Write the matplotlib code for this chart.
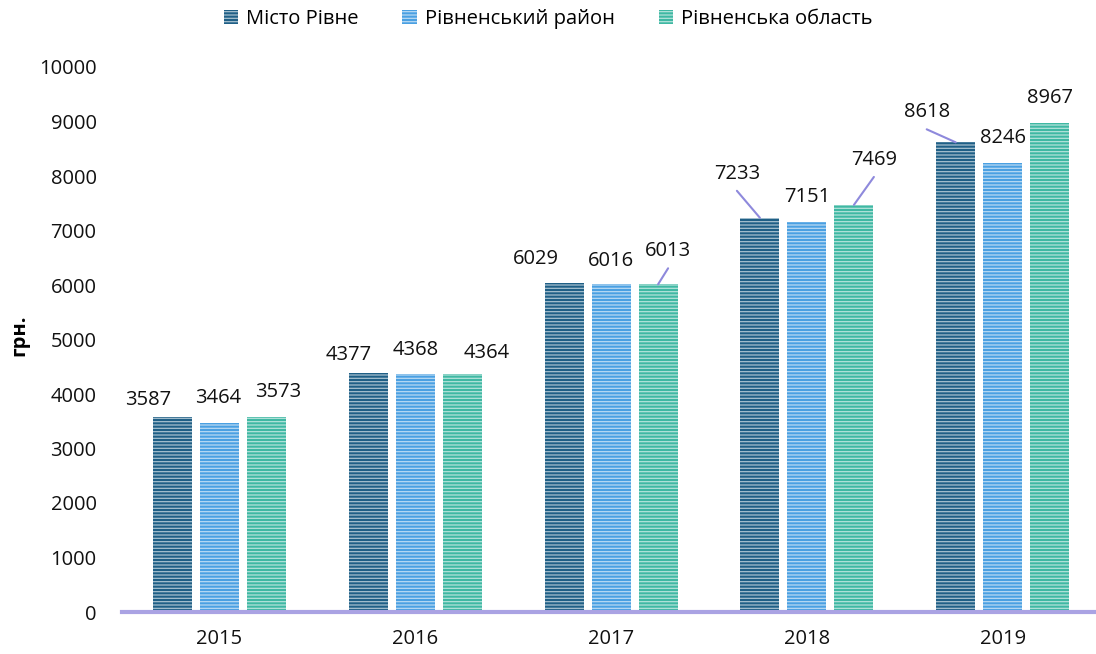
import matplotlib
matplotlib.use("Agg")
import matplotlib.pyplot as plt
import numpy as np

years = ["2015", "2016", "2017", "2018", "2019"]
series_names = ["Місто Рівне", "Рівненський район", "Рівненська область"]
misto = [3587, 4377, 6029, 7233, 8618]
raion = [3464, 4368, 6016, 7151, 8246]
oblast = [3573, 4364, 6013, 7469, 8967]
yticks = [0, 1000, 2000, 3000, 4000, 5000, 6000, 7000, 8000, 9000, 10000]
y_label = "грн."

colors = ["#1f5f86", "#4aa0e2", "#3fb8a3"]
# label offsets in pixels (dx, dy) relative to bar top centre, and leader-line flag
label_offsets = [
    [(-24, 17, False), (-20, 18, False), (-28, 24, False), (-23, 44, True), (-29, 30, True)],
    [(-1, 25, False), (0, 24, False), (0, 23, False), (0, 25, False), (0, 25, False)],
    [(12, 25, False), (24, 21, False), (10, 33, True), (20, 45, True), (0, 25, False)],
]

plt.rcParams['font.family'] = ['Open Sans', 'DejaVu Sans']
plt.rcParams['hatch.linewidth'] = 0.9

fig = plt.figure(figsize=(10.96, 6.54), dpi=100)
ax = fig.add_axes([121.6 / 1096, 1 - 612 / 654, 979 / 1096, 545 / 654])

x = np.arange(len(years))
width = 0.2
offsets = [-0.24, 0.0, 0.24]
data = [misto, raion, oblast]
handles = []
for i, (vals, col, off) in enumerate(zip(data, colors, offsets)):
    bars = ax.bar(x + off, vals, width, color=col, edgecolor=(1, 1, 1, 0.6),
                  linewidth=0, hatch='-----', zorder=2, label=series_names[i])
    handles.append(bars)
    for j, v in enumerate(vals):
        dx, dy, leader = label_offsets[i][j]
        ax.annotate(str(v), xy=(x[j] + off, v), xytext=(dx, dy),
                    textcoords='offset pixels', ha='center', va='center',
                    fontsize=14.5, color='#111111', zorder=4)
        if leader:
            ax.annotate("", xy=(x[j] + off, v), xytext=(dx, dy - 17),
                        textcoords='offset pixels',
                        arrowprops=dict(arrowstyle='-', color='#8e89dc', lw=1.5,
                                        shrinkA=0, shrinkB=0), zorder=3)

ax.set_xlim(-0.5, 4.5)
ax.set_ylim(0, 10000)
ax.set_xticks(x)
ax.set_xticklabels(years, fontsize=14.5)
ax.set_yticks(yticks)
ax.set_yticklabels([str(t) for t in yticks], fontsize=14.5)
ax.tick_params(axis='both', length=0, colors='#111111')
ax.tick_params(axis='x', pad=12)
ax.tick_params(axis='y', pad=18)
for s in ['top', 'right', 'left']:
    ax.spines[s].set_visible(False)
ax.spines['bottom'].set_color('#aaa3e3')
ax.spines['bottom'].set_linewidth(3)
ax.spines['bottom'].set_zorder(5)

fig.text(19 / 1096, 1 - 335 / 654, y_label, rotation=90, fontsize=14.5,
         fontweight='bold', ha='center', va='center')

leg = fig.legend(handles=handles, labels=series_names, loc='center',
                 bbox_to_anchor=(0.5, 1 - 19 / 654), ncol=3, frameon=False,
                 fontsize=14.5, handlelength=0.7, handleheight=0.7,
                 handletextpad=0.4, columnspacing=2.2)

fig.savefig("out.png", dpi=100)
